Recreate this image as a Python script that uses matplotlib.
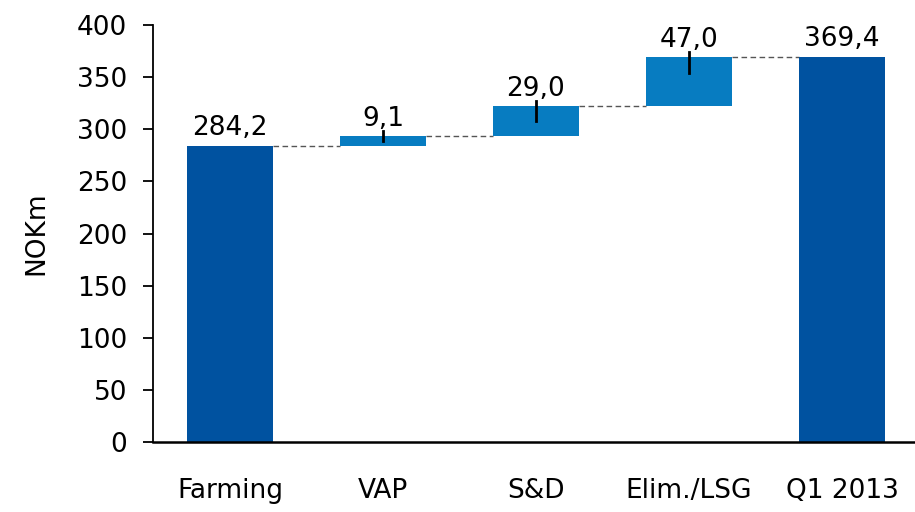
import numpy as np
import matplotlib
matplotlib.use("Agg")
import matplotlib.pyplot as plt

categories = ["Farming", "VAP", "S&D", "Elim./LSG", "Q1 2013"]
values = [284.2, 9.1, 29.0, 47.0, 369.4]
labels = ["284,2", "9,1", "29,0", "47,0", "369,4"]
is_total = [True, False, False, False, True]

dark = "#0052A0"
light = "#077CC1"

plt.rcParams["font.family"] = ["DejaVu Sans"]
FS = 19

fig = plt.figure(figsize=(9.15, 5.12), dpi=100)
ax = fig.add_axes([153/915, 70/512, 762/915, 417/512])

x = np.arange(len(categories))
width = 0.56

# bottoms of the floating bars
bottoms = []
run = 0.0
for v, tot in zip(values, is_total):
    if tot:
        bottoms.append(0.0)
        run = v
    else:
        bottoms.append(run)
        run += v
tops = [b + v for b, v in zip(bottoms, values)]

colors = [dark if t else light for t in is_total]
ax.bar(x, values, width, bottom=bottoms, color=colors, zorder=2)

# dashed connectors
for i in range(len(x) - 1):
    level = tops[i]
    ax.plot([x[i] + width/2, x[i+1] - width/2], [level, level],
            color="#555555", lw=1, ls=(0, (4, 2.5)), zorder=1)

# small marks on the increments
for i in range(len(x)):
    if not is_total[i]:
        down = min(values[i] / 2, 15)
        ax.plot([x[i], x[i]], [tops[i] + 5, tops[i] - down],
                color="black", lw=2, zorder=3)

# value labels
for i in range(len(x)):
    ax.annotate(labels[i], (x[i], tops[i]), xytext=(0, 7.5),
                textcoords="offset points", ha="center", va="baseline",
                fontsize=FS)

ax.set_ylim(0, 400)
ax.set_yticks(np.arange(0, 401, 50))
ax.set_xlim(-0.503, 4.477)
ax.set_xticks(x)
ax.set_xticklabels(categories)
ax.set_ylabel("NOKm", fontsize=FS, labelpad=20)

ax.tick_params(axis="y", labelsize=FS, length=7.5, width=1.3, direction="out", pad=11)
ax.tick_params(axis="x", labelsize=FS, length=0, pad=26)

ax.spines["top"].set_visible(False)
ax.spines["right"].set_visible(False)
ax.spines["left"].set_linewidth(1.3)
ax.spines["bottom"].set_linewidth(1.8)

fig.savefig("out.png", dpi=100)
